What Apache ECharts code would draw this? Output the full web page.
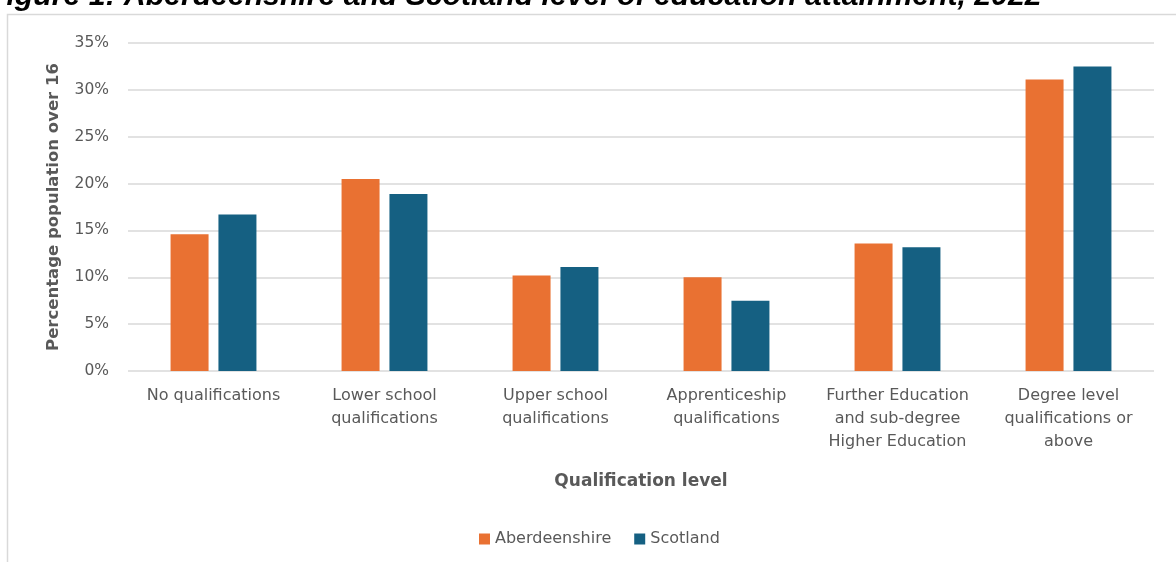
<!DOCTYPE html>
<html>
<head>
<meta charset="utf-8">
<script src="https://cdn.jsdelivr.net/npm/echarts@6/dist/echarts.min.js"></script>
<style>
  html, body { margin: 0; padding: 0; background: #fff; overflow: hidden; }
  #chart { width: 1176px; height: 562px; }
</style>
</head>
<body>
<div id="chart"></div>
<script>
const categories = [
  'No qualifications',
  'Lower school\nqualifications',
  'Upper school\nqualifications',
  'Apprenticeship\nqualifications',
  'Further Education\nand sub-degree\nHigher Education',
  'Degree level\nqualifications or\nabove'
]
const aberdeenshire = [14.6, 20.5, 10.2, 10.0, 13.6, 31.1]
const scotland = [16.7, 18.9, 11.1, 7.5, 13.2, 32.5]
const yTicks = [0, 5, 10, 15, 20, 25, 30, 35]

const textColor = '#595959'
const fontFamily = '"DejaVu Sans", sans-serif'

const chart = echarts.init(document.getElementById('chart'))

chart.setOption({
  backgroundColor: '#fff',
  animation: false,
  textStyle: { fontFamily },
  graphic: [
    {
      type: 'rect',
      shape: { x: 7.5, y: 14.5, width: 1200, height: 600 },
      style: { fill: 'none', stroke: '#d9d9d9', lineWidth: 1.5 },
      z: -1
    },
    {
      type: 'text',
      x: -12,
      y: -18,
      style: {
        text: 'Figure 1: Aberdeenshire and Scotland level of education attainment, 2022',
        font: 'italic bold 30.2px "Liberation Sans", Arial, sans-serif',
        fill: '#000'
      }
    }
  ],
  grid: { left: 128, right: 22, top: 43, bottom: 191 },
  legend: {
    left: 474,
    top: 526,
    itemWidth: 11,
    itemHeight: 11,
    itemGap: 23,
    icon: 'rect',
    textStyle: { color: textColor, fontSize: 16, fontFamily },
    data: ['Aberdeenshire', 'Scotland']
  },
  xAxis: {
    type: 'category',
    data: categories,
    name: 'Qualification level',
    nameLocation: 'middle',
    nameGap: 102,
    nameTextStyle: { color: textColor, fontSize: 17, fontWeight: 'bold', fontFamily },
    axisLine: { show: false },
    axisTick: { show: false },
    axisLabel: { color: textColor, fontSize: 16, lineHeight: 23, margin: 13, interval: 0, fontFamily }
  },
  yAxis: {
    type: 'value',
    min: 0,
    max: yTicks[yTicks.length - 1],
    interval: 5,
    name: 'Percentage population over 16',
    nameLocation: 'middle',
    nameGap: 66,
    nameTextStyle: { color: textColor, fontSize: 16.5, fontWeight: 'bold', fontFamily },
    axisLine: { show: false },
    axisTick: { show: false },
    axisLabel: { color: textColor, fontSize: 15.5, margin: 19, formatter: '{value}%', fontFamily },
    splitLine: { lineStyle: { color: '#d9d9d9', width: 1.5 } }
  },
  series: [
    {
      name: 'Aberdeenshire',
      type: 'bar',
      data: aberdeenshire,
      barWidth: 38,
      barGap: '26%',
      itemStyle: { color: '#e97132' }
    },
    {
      name: 'Scotland',
      type: 'bar',
      data: scotland,
      barWidth: 38,
      itemStyle: { color: '#156082' }
    }
  ]
})
</script>
</body>
</html>
